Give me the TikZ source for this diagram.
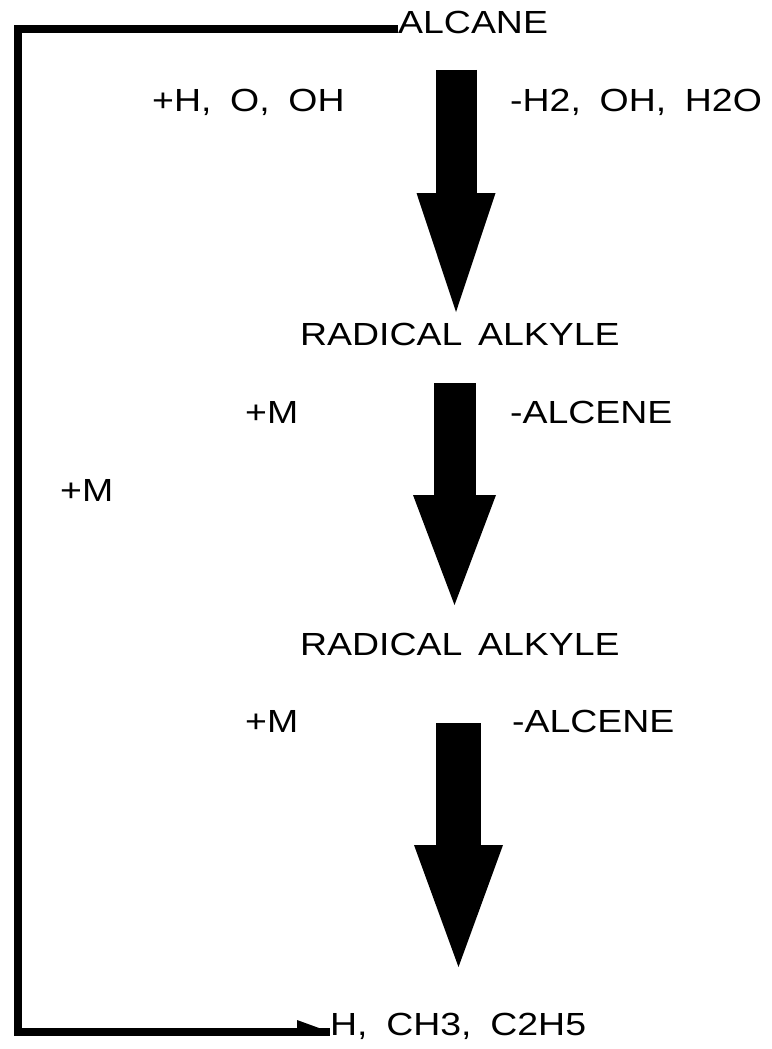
\documentclass[tikz,border=0pt]{standalone}
\usepackage{fontspec}
\setmainfont{Liberation Sans}[FakeStretch=1.17,WordSpace=1.8]
\usetikzlibrary{arrows.meta}
\tikzset{
  lbl/.style={anchor=base west,inner sep=0pt},
  backline/.style={line width=8pt},
}

\begin{document}
\begin{tikzpicture}[x=1pt,y=-1pt,font=\fontsize{32pt}{38pt}\selectfont]
\useasboundingbox (0,0) rectangle (771,1049);
% species and side labels
\node[lbl] (alcane) at (398,34) {ALCANE};
\node[lbl] (addA) at (152,111) {+H, O, OH};
\node[lbl] (remA) at (510,111) {-H2, OH, H2O};
\node[lbl] (radA) at (300,345) {RADICAL\hspace{-3pt} ALKYLE};
\node[lbl] (addB) at (245,423) {+M};
\node[lbl] (remB) at (510,423) {-ALCENE};
\node[lbl] (addL) at (60,501) {+M};
\node[lbl] (radB) at (300,655) {RADICAL\hspace{-3pt} ALKYLE};
\node[lbl] (addC) at (245,732) {+M};
\node[lbl] (remC) at (512,732) {-ALCENE};
\node[lbl] (prod) at (330,1035) {H, CH3, C2H5};
% big reaction arrows
\coordinate (a1s) at (456,70);   \coordinate (a1e) at (456,312);
\coordinate (a2s) at (454.5,383); \coordinate (a2e) at (454.5,605);
\coordinate (a3s) at (458.5,723); \coordinate (a3e) at (458.5,967);
\foreach \s/\e/\sw/\hw/\hl in {a1s/a1e/41pt/79pt/119pt, a2s/a2e/42pt/83pt/110pt, a3s/a3e/45pt/89pt/122pt}
  \draw[line width=\sw,-{Triangle[length=\hl,width=\hw,line width=0pt]}] (\s) -- (\e);
% return path on the left
\coordinate (topend) at ([yshift=5pt]alcane.base west);
\coordinate (botend) at ([yshift=3pt]prod.base west);
\coordinate (leftx) at (17.5,0);
\draw[backline] (topend) -- (topend -| leftx) |- (botend);
\fill (botend) -- ++(-33,-12) -- ++(0,12) -- cycle;
\end{tikzpicture}
\end{document}
